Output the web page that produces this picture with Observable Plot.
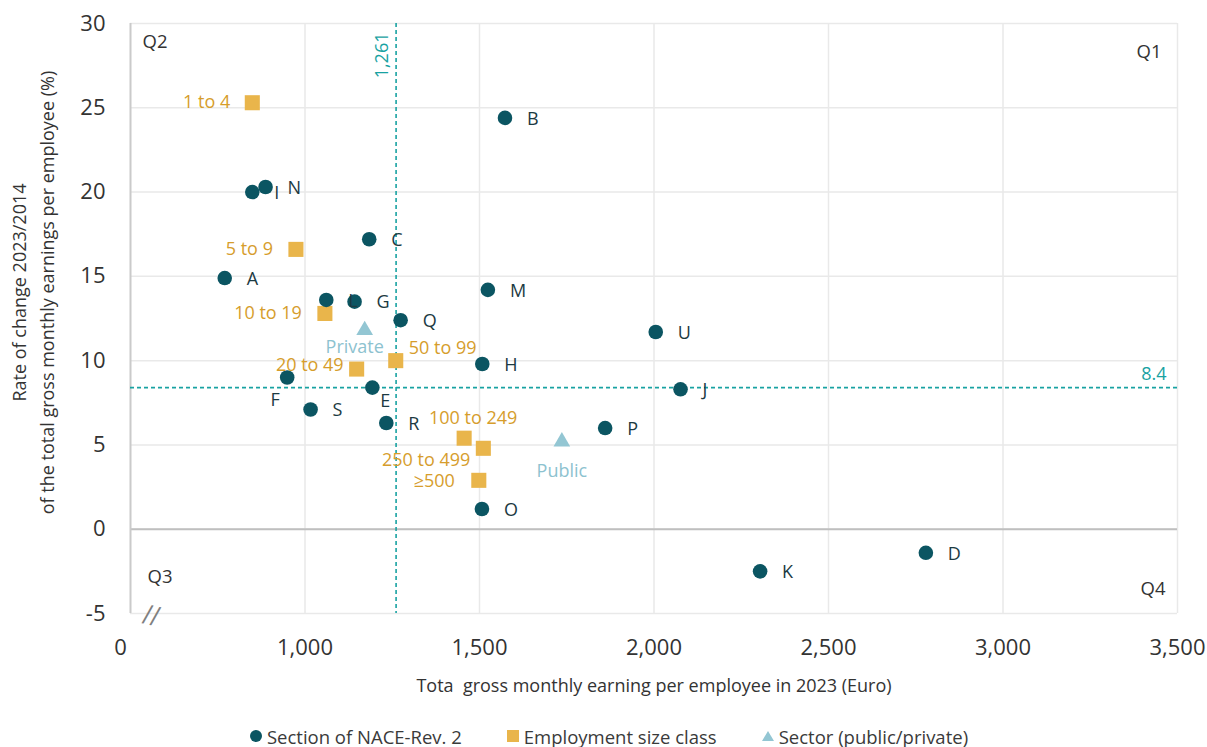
<!DOCTYPE html>
<html>
<head>
<meta charset="utf-8">
<script src="https://cdn.jsdelivr.net/npm/d3@7"></script>
<script src="https://cdn.jsdelivr.net/npm/@observablehq/plot@0.6"></script>
<style>
  html, body { margin: 0; padding: 0; background: #fff; }
  #chart svg { display: block; }
  .legend { display: flex; justify-content: center; align-items: center; margin-top: 6px; height: 30px;
    font-family: 'Open Sans', sans-serif; font-size: 18.5px; color: #3a3a3a; padding-left: 10px; }
  .legend .item { display: flex; align-items: center; margin: 0 22px; }
  .legend svg { margin-right: 4px; }
</style>
</head>
<body>
<div id="chart"></div>
<div class="legend" id="legend"></div>
<script>
// ---- data ----
const naceLabels   = ["A","B","C","D","E","F","G","H","I","J","K","L","M","N","O","P","Q","R","S","U"];
const naceEarnings = [770,1573,1184,2779,1193,949,1142,1508,849,2076,2304,1061,1524,887,1507,1860,1274,1233,1016,2005];
const naceChange   = [14.9,24.4,17.2,-1.4,8.4,9.0,13.5,9.8,20.0,8.3,-2.5,13.6,14.2,20.3,1.2,6.0,12.4,6.3,7.1,11.7];

const sizeLabels   = ["1 to 4","5 to 9","10 to 19","20 to 49","50 to 99","100 to 249","250 to 499","≥500"];
const sizeEarnings = [849,974,1057,1148,1260,1456,1511,1498];
const sizeChange   = [25.3,16.6,12.8,9.5,10.0,5.4,4.8,2.9];

const sectorLabels   = ["Private","Public"];
const sectorEarnings = [1171,1736];
const sectorChange   = [11.8,5.2];

const refEarnings = 1261;
const refChange = 8.4;

const xTicks = [1000,1500,2000,2500,3000,3500];
const yTicks = [-5,0,5,10,15,20,25,30];
const quadrants = ["Q1","Q2","Q3","Q4"];
const seriesNames = ["Section of NACE-Rev. 2","Employment size class","Sector (public/private)"];

// ---- styling ----
const cNace = "#0b5562", cNaceText = "#1c3a42";
const cSize = "#e9b54b", cSizeText = "#d69d2c";
const cSector = "#93c6d3", cSectorText = "#8dc2cf";
const cRef = "#18a2a2";
const font = "'Open Sans', sans-serif";

const nace = naceLabels.map((l,i)=>({label:l, x:naceEarnings[i], y:naceChange[i]}));
const size = sizeLabels.map((l,i)=>({label:l, x:sizeEarnings[i], y:sizeChange[i]}));
const sector = sectorLabels.map((l,i)=>({label:l, x:sectorEarnings[i], y:sectorChange[i]}));

// label placement (anchor, dx, dy)
const naceOff = {F:["middle",-12,23], E:["middle",13,14]};
const sizeOff = {
  "1 to 4":["end",-22,0], "5 to 9":["end",-23,0], "10 to 19":["end",-23,0],
  "20 to 49":["end",-13,-4], "50 to 99":["start",13,-12], "100 to 249":["middle",9,-20],
  "250 to 499":["end",-13,12], "≥500":["end",-24,1]
};
const sectorOff = {Private:["middle",-10,17], Public:["middle",0,30]};

function labelMarks(rows, offs, def, fill) {
  return rows.map(r => {
    const o = offs[r.label] || def;
    return Plot.text([r], {x:"x", y:"y", text:"label", textAnchor:o[0], dx:o[1], dy:o[2],
      fill, fontSize:18, fontFamily:font});
  });
}

const qPos = {
  Q1:["top-right","end",-16,29], Q2:["top-left","start",12,19],
  Q3:["bottom-left","start",17,-36], Q4:["bottom-right","end",-12,-24]
};

const chart = Plot.plot({
  width: 1207, height: 715,
  marginLeft: 130, marginRight: 30, marginTop: 23, marginBottom: 102,
  x: {domain: [500, 3500]},
  y: {domain: [-5, 30]},
  style: {fontFamily: font, background: "white", overflow: "visible"},
  marks: [
    Plot.gridY(yTicks, {stroke: "#e9e9e9", strokeOpacity: 1, strokeWidth: 1.5}),
    Plot.gridX(xTicks, {stroke: "#e9e9e9", strokeOpacity: 1, strokeWidth: 1.5}),
    Plot.ruleY([0], {stroke: "#bfbfbf", strokeWidth: 2}),
    Plot.ruleX([500], {stroke: "#cacaca", strokeWidth: 2}),
    Plot.axisY({ticks: yTicks, tickSize: 0, tickPadding: 25, fontSize: 22, label: null, fill: "#333", tickFormat: d => String(d)}),
    Plot.axisX({ticks: xTicks, tickSize: 0, tickPadding: 26, fontSize: 22, label: null, fill: "#333", tickFormat: d3.format(",")}),
    Plot.axisX({ticks: [500], tickSize: 0, tickPadding: 26, fontSize: 22, label: null, fill: "#333", tickFormat: () => "0", dx: -10}),
    Plot.text(["//"], {frameAnchor: "bottom-left", lineAnchor: "middle", dx: 13, dy: 0, fontSize: 24, fill: "#808080", text: d => d, fontFamily: "DejaVu Sans", rotate: 12}),
    // reference lines
    Plot.ruleX([refEarnings], {x: d => d, stroke: cRef, strokeWidth: 1.6, strokeDasharray: "4,3"}),
    Plot.ruleY([refChange], {y: d => d, stroke: cRef, strokeWidth: 1.6, strokeDasharray: "4,3"}),
    Plot.text([refEarnings], {x: d => d, frameAnchor: "top", lineAnchor: "middle", rotate: -90, textAnchor: "end", dx: -14, dy: 9,
      text: d => d3.format(",")(d), fill: cRef, fontSize: 18}),
    Plot.text([refChange], {y: d => d, frameAnchor: "right", textAnchor: "end", dx: -11, dy: -13,
      text: d => String(d), fill: cRef, fontSize: 18}),
    // quadrant labels
    ...quadrants.map(q => Plot.text([q], {frameAnchor: qPos[q][0], lineAnchor: "middle", textAnchor: qPos[q][1], dx: qPos[q][2], dy: qPos[q][3],
      text: d => d, fill: "#333", fontSize: 18.5})),
    // axis titles
    Plot.text(["Rate of change 2023/2014"], {frameAnchor: "left", textAnchor: "middle", lineAnchor: "middle", rotate: -90, dx: -110, dy: -26, text: d => d, fill: "#333", fontSize: 18}),
    Plot.text(["of the total gross monthly earnings per employee (%)"], {frameAnchor: "left", textAnchor: "middle", lineAnchor: "middle", rotate: -90, dx: -82, dy: -26, text: d => d, fill: "#333", fontSize: 18}),
    Plot.text(["Tota\u00a0 gross monthly earning per employee in 2023 (Euro)"], {frameAnchor: "bottom", lineAnchor: "middle", dy: 73, text: d => d, fill: "#333", fontSize: 18}),
    // points
    Plot.dot(sector, {x: "x", y: "y", symbol: "triangle", r: 6.2, fill: cSector, stroke: "none"}),
    Plot.dot(size, {x: "x", y: "y", symbol: "square", r: 8.5, fill: cSize, stroke: "none"}),
    Plot.dot(nace, {x: "x", y: "y", symbol: "circle", r: 7.3, fill: cNace, stroke: "none"}),
    // labels
    ...labelMarks(nace, naceOff, ["start",22,1], cNaceText),
    ...labelMarks(size, sizeOff, ["end",-22,0], cSizeText),
    ...labelMarks(sector, sectorOff, ["middle",0,17], cSectorText)
  ]
});
document.getElementById("chart").appendChild(chart);

// legend
const legendSymbols = [
  `<svg width="14" height="14"><circle cx="7" cy="7" r="6" fill="${cNace}"/></svg>`,
  `<svg width="14" height="14"><rect x="1" y="1" width="12" height="12" fill="${cSize}"/></svg>`,
  `<svg width="14" height="14"><path d="M7 2 L13 12 L1 12 Z" fill="${cSector}"/></svg>`
];
document.getElementById("legend").innerHTML = seriesNames.map((n,i) =>
  `<div class="item">${legendSymbols[i]}<span>${n}</span></div>`).join("");
</script>
</body>
</html>
